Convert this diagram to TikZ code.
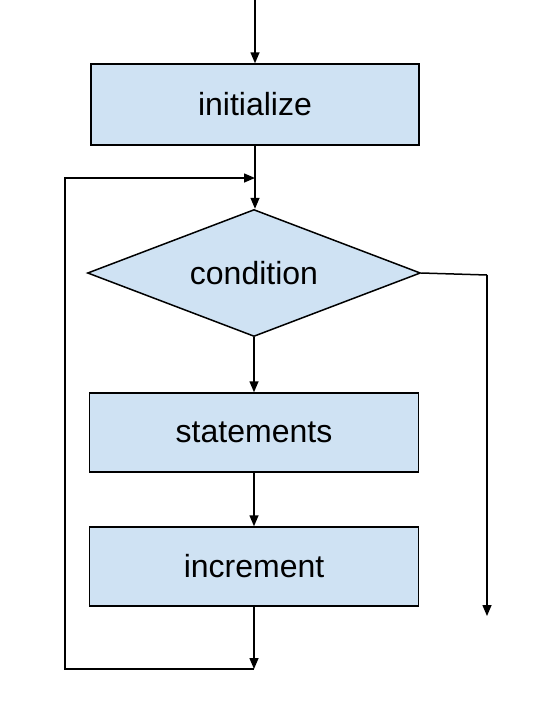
\documentclass[tikz,border=0pt]{standalone}
\usepackage{fontspec}
\setmainfont{Liberation Sans}
\usetikzlibrary{shapes.geometric,arrows.meta}
\definecolor{boxfill}{HTML}{CFE2F3}
\begin{document}
\begin{tikzpicture}[x=1pt,y=-1pt,
  every node/.style={font=\fontsize{32}{38}\selectfont},
  procbox/.style={draw=black,line width=1.5pt,fill=boxfill,rectangle,inner sep=0pt,minimum width=329pt,minimum height=79pt},
  decbox/.style={draw=black,line width=1.5pt,fill=boxfill,diamond,aspect=2.62,inner sep=0pt,minimum width=333pt,minimum height=127pt},
  flow/.style={line width=1.5pt,-{Triangle[length=11pt,width=9pt]}},
  plain/.style={line width=1.5pt}]
\useasboundingbox (0,0) rectangle (553,724);
\coordinate (top) at (255,0);
\node[procbox,minimum width=328pt,minimum height=81pt] (init) at (255,104.5) {initialize};
\node[decbox] (cond) at (254,273) {condition};
\node[procbox] (stat) at (254,432.5) {statements};
\node[procbox] (incr) at (254,566.5) {increment};
\coordinate (bl) at (254,669);
\coordinate (lc) at (65,669);
\coordinate (tl) at (65,178);
\coordinate (tr) at (255,178);
\coordinate (rc) at (487,275);
\coordinate (re) at (487,616);
\draw[flow] (top) -- (init.north);
\draw[flow] (init.south) -- (init.south |- cond.north);
\draw[flow] (cond.south) -- (stat.north);
\draw[flow] (stat.south) -- (incr.north);
\draw[flow] (incr.south) -- (bl);
\draw[plain] (bl) -- (lc) -- (tl) -- ([xshift=-8pt]tr);
\draw[flow] (tl) -- (tr);
\draw[plain] (cond.east) -- (rc);
\draw[flow] (rc) -- (re);
\end{tikzpicture}
\end{document}
